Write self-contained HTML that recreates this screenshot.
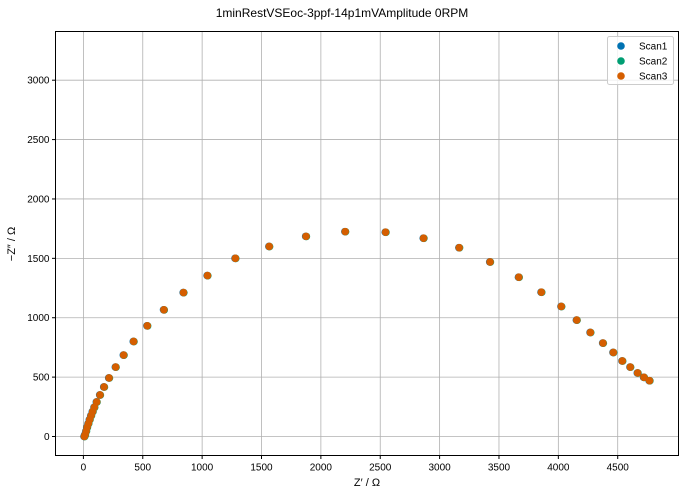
<!DOCTYPE html>
<html><head><meta charset="utf-8"><style>
body{margin:0;background:#fff;}
svg text{font-family:"Liberation Sans","DejaVu Sans",sans-serif;}
</style></head><body>
<svg id="chart" width="685" height="497" xmlns="http://www.w3.org/2000/svg">
<rect width="685" height="497" fill="#fff"/>
<text x="342" y="17" text-anchor="middle" font-size="12">1minRestVSEoc-3ppf-14p1mVAmplitude 0RPM</text>
<g id="grid"></g>
<g id="marks"></g>
<rect x="55.5" y="31.5" width="623" height="424" fill="none" stroke="#000" stroke-width="1"/>
<g id="ticks"></g>
<text x="367" y="486" text-anchor="middle" font-size="11">Z′ / Ω</text>
<text transform="translate(15,244) rotate(-90)" text-anchor="middle" font-size="11">−Z″ / Ω</text>
<g id="legend"></g>
</svg>
<script>
const xTicks=[0,500,1000,1500,2000,2500,3000,3500,4000,4500];
const yTicks=[0,500,1000,1500,2000,2500,3000];
const zRe=[8,14,23,31,42,53,65,78,92,112,140,174,216,272,339,423,538,678,843,1045,1280,1565,1875,2205,2545,2865,3165,3425,3667,3857,4025,4155,4270,4376,4463,4539,4606,4668,4721,4768];
const zIm=[0,14,45,78,109,143,176,210,246,291,350,417,493,585,686,800,932,1067,1212,1355,1500,1600,1685,1725,1720,1670,1590,1470,1341,1215,1095,980,876,787,708,636,585,535,498,470];
const seriesNames=["Scan1","Scan2","Scan3"];
const seriesShift=[[-3,0],[3,-1],[0,0]];
const colors=["#0072B2","#009E73","#D55E00"];
const NS="http://www.w3.org/2000/svg";
const X0=55.5,X1=678.5,Y0=455.5,Y1=31.5;
const xMin=-235,xMax=5012,yMin=-160,yMax=3410;
const sx=v=>X0+(v-xMin)/(xMax-xMin)*(X1-X0);
const sy=v=>Y0-(v-yMin)/(yMax-yMin)*(Y0-Y1);
function mk(tag,attrs,parent){const e=document.createElementNS(NS,tag);for(const k in attrs)e.setAttribute(k,attrs[k]);parent.appendChild(e);return e;}
const grid=document.getElementById('grid'),ticks=document.getElementById('ticks'),marks=document.getElementById('marks'),legend=document.getElementById('legend');
xTicks.forEach(t=>{const x=sx(t);
 const g=mk('line',{x1:x,x2:x,y1:Y1,y2:Y0,stroke:'#b0b0b0','stroke-width':0.8},grid);
 
 
 mk('line',{x1:x,x2:x,y1:Y0,y2:Y0+3.5,stroke:'#000'},ticks);
 const l=mk('text',{x:x,y:Y0+15,'text-anchor':'middle','font-size':10},ticks);l.textContent=t;
 
 });
yTicks.forEach(t=>{const y=sy(t);
 const g=mk('line',{x1:X0,x2:X1,y1:y,y2:y,stroke:'#b0b0b0','stroke-width':0.8},grid);
 
 
 mk('line',{x1:X0-3.5,x2:X0,y1:y,y2:y,stroke:'#000'},ticks);
 const l=mk('text',{x:X0-6,y:y+3.5,'text-anchor':'end','font-size':10},ticks);l.textContent=t;
 
 });
seriesNames.forEach((n,s)=>{zRe.forEach((v,i)=>{
 const c=mk('circle',{cx:sx(v+seriesShift[s][0]),cy:sy(zIm[i]+seriesShift[s][1]),r:3.8,fill:colors[s]},marks);
 
 });});
const lb=mk('rect',{x:607.5,y:36.5,width:66,height:48,rx:2,fill:'#fff','fill-opacity':0.8,stroke:'#ccc'},legend);


seriesNames.forEach((n,s)=>{const y=46+s*15;
 const c=mk('circle',{cx:621,cy:y,r:3.8,fill:colors[s]},legend);
 
 
 const t=mk('text',{x:639,y:y+3.5,'font-size':10},legend);t.textContent=n;
 
 });
</script>
</body></html>
